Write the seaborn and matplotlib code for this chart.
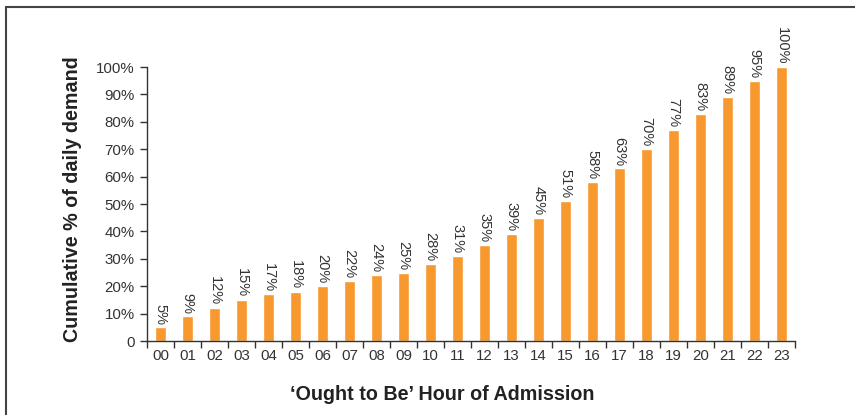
import matplotlib
matplotlib.use("Agg")
import matplotlib.pyplot as plt
import seaborn as sns
import pandas as pd
from matplotlib.patches import Rectangle
from matplotlib.ticker import FixedLocator

# Data
hours = ["00", "01", "02", "03", "04", "05", "06", "07", "08", "09", "10", "11",
         "12", "13", "14", "15", "16", "17", "18", "19", "20", "21", "22", "23"]
cumulative_pct = [5, 9, 12, 15, 17, 18, 20, 22, 24, 25, 28, 31,
                  35, 39, 45, 51, 58, 63, 70, 77, 83, 89, 95, 100]
y_ticks = [0, 10, 20, 30, 40, 50, 60, 70, 80, 90, 100]

df = pd.DataFrame({"Hour": hours, "Cumulative": cumulative_pct})

sns.set_style("white")
plt.rcParams["font.family"] = ["Liberation Sans", "DejaVu Sans"]
text_col = "#333333"
bar_col = "#F7992E"

fig = plt.figure(figsize=(8.55, 4.15), dpi=100)
ax = fig.add_axes([147 / 855, 1 - 341 / 415, (795 - 147) / 855, (341 - 67) / 415])

sns.barplot(data=df, x="Hour", y="Cumulative", color=bar_col, width=0.4,
            saturation=1, ax=ax)

ax.set_xlim(-0.5, len(hours) - 0.5)
ax.set_ylim(0, 100)

# value labels, rotated, above each bar
for i, v in enumerate(cumulative_pct):
    ax.text(i, v + 1.0, f"{v}%", rotation=270, ha="center", va="bottom",
            fontsize=10.5, color=text_col, clip_on=False)

# y axis
ax.set_yticks(y_ticks)
ax.set_yticklabels(["0"] + [f"{t}%" for t in y_ticks[1:]])
ax.tick_params(axis="y", direction="out", length=5, width=1, pad=4,
               color=text_col, labelcolor=text_col, labelsize=10.8, left=True)

# x axis: labels at bar centres, tick marks between bars
ax.set_xticks(range(len(hours)))
ax.set_xticklabels(hours)
ax.tick_params(axis="x", which="major", length=0, pad=6,
               labelcolor=text_col, labelsize=10.8)
ax.xaxis.set_minor_locator(FixedLocator([i - 0.5 for i in range(len(hours) + 1)]))
ax.tick_params(axis="x", which="minor", direction="out", length=5, width=1,
               color=text_col, bottom=True)

for side in ["top", "right"]:
    ax.spines[side].set_visible(False)
for side in ["left", "bottom"]:
    ax.spines[side].set_color(text_col)
    ax.spines[side].set_linewidth(1)

ax.set_xlabel("")
ax.set_ylabel("")
fig.text(442 / 855, 1 - 394 / 415, "\u2018Ought to Be\u2019 Hour of Admission",
         ha="center", va="center", fontsize=14.2, fontweight="bold", color="#222222")
fig.text(72 / 855, 1 - 199 / 415, "Cumulative % of daily demand", rotation=90,
         ha="center", va="center", fontsize=14.2, fontweight="bold", color="#222222")

# outer frame (left and top edges visible in the reference)
fig.patches.append(Rectangle((6 / 855, -0.1), 1.2, 1 - 7 / 415 + 0.1,
                             transform=fig.transFigure, fill=False,
                             edgecolor="#444444", linewidth=1.5))

fig.savefig("out.png", dpi=100)
